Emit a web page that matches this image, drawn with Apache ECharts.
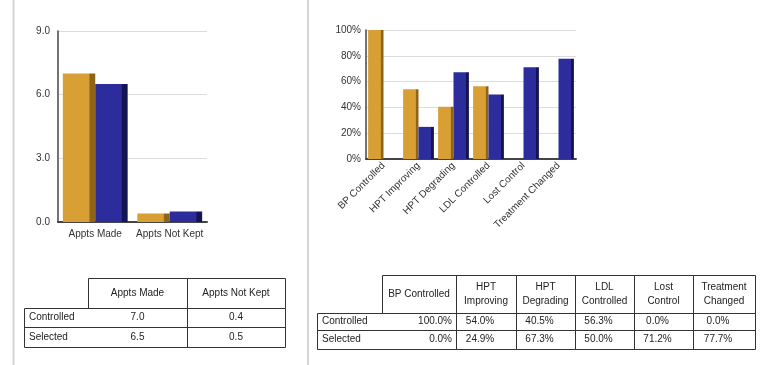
<!DOCTYPE html>
<html>
<head>
<meta charset="utf-8">
<script src="https://cdn.jsdelivr.net/npm/echarts@6/dist/echarts.min.js"></script>
<style>
html,body{margin:0;padding:0;background:#fff;}
#c{width:766px;height:365px;}
</style>
</head>
<body>
<div id="c"></div>
<script>
// ---- data ----
const seriesNames = ['Controlled', 'Selected'];
const categoriesL = ['Appts Made', 'Appts Not Kept'];
const controlledL = [7.0, 0.4];
const selectedL = [6.5, 0.5];
const yTicksL = [0, 3, 6, 9];

const categoriesR = ['BP Controlled', 'HPT Improving', 'HPT Degrading', 'LDL Controlled', 'Lost Control', 'Treatment Changed'];
const headersR = ['BP Controlled', 'HPT\nImproving', 'HPT\nDegrading', 'LDL\nControlled', 'Lost\nControl', 'Treatment\nChanged'];
const controlledR = [100.0, 54.0, 40.5, 56.3, 0.0, 0.0];
const selectedR = [0.0, 24.9, 67.3, 50.0, 71.2, 77.7];
const yTicksR = [0, 20, 40, 60, 80, 100];

// ---- styles ----
const FONT = 'Liberation Sans';
const ORANGE = '#D8A034';
const ORANGE_DARK = '#8E6418';
const BLUE = '#2C2C9C';
const BLUE_DARK = '#141452';

function barFill(main, dark) {
  return {
    type: 'linear', x: 0, y: 0, x2: 1, y2: 0,
    colorStops: [
      { offset: 0, color: main },
      { offset: 0.8, color: main },
      { offset: 0.84, color: dark },
      { offset: 1, color: dark }
    ]
  };
}

function table(colEdges, rowEdges, headers, rowLabels, rows, fmt, valAlign) {
  const els = [];
  const last = colEdges[colEdges.length - 1];
  const stroke = { stroke: '#333', lineWidth: 1, fill: null };
  const p = v => Math.round(v) + 0.5;
  els.push({ type: 'rect', shape: { x: p(colEdges[1]), y: p(rowEdges[0]), width: last - colEdges[1], height: rowEdges[1] - rowEdges[0] }, style: stroke, silent: true });
  els.push({ type: 'rect', shape: { x: p(colEdges[0]), y: p(rowEdges[1]), width: last - colEdges[0], height: rowEdges[rowEdges.length - 1] - rowEdges[1] }, style: stroke, silent: true });
  for (let i = 2; i < colEdges.length - 1; i++) {
    els.push({ type: 'line', shape: { x1: p(colEdges[i]), y1: p(rowEdges[0]), x2: p(colEdges[i]), y2: p(rowEdges[rowEdges.length - 1]) }, style: stroke, silent: true });
  }
  for (let r = 2; r < rowEdges.length - 1; r++) {
    els.push({ type: 'line', shape: { x1: p(colEdges[0]), y1: p(rowEdges[r]), x2: p(last), y2: p(rowEdges[r]) }, style: stroke, silent: true });
  }
  const txt = (text, x, y, align) => ({
    type: 'text', silent: true,
    style: { text: text, x: x, y: y, align: align, verticalAlign: 'middle', textAlign: align, textVerticalAlign: 'middle', fill: '#222', font: '10px "' + FONT + '"', lineHeight: 14 }
  });
  headers.forEach((h, i) => {
    const cx = (colEdges[i + 1] + colEdges[i + 2]) / 2;
    els.push(txt(h, cx, (rowEdges[0] + rowEdges[1]) / 2, 'center'));
  });
  rows.forEach((vals, r) => {
    const cy = (rowEdges[r + 1] + rowEdges[r + 2]) / 2;
    els.push(txt(rowLabels[r], colEdges[0] + 5, cy, 'left'));
    vals.forEach((v, i) => {
      const a = valAlign(i);
      let x;
      if (a === 'right') x = colEdges[i + 2] - 4;
      else x = (colEdges[i + 1] + colEdges[i + 2]) / 2 + (a === 'center' ? 0 : -6);
      els.push(txt(fmt(v), x, cy, a === 'right' ? 'right' : 'center'));
    });
  });
  return els;
}

const chart = echarts.init(document.getElementById('c'), null, { renderer: 'canvas' });

const axisLabelStyle = { color: '#333', fontFamily: FONT, fontSize: 10 };

const graphics = [
  { type: 'line', shape: { x1: 13.5, y1: 0, x2: 13.5, y2: 365 }, style: { stroke: '#d6d6d6', lineWidth: 2 }, silent: true },
  { type: 'line', shape: { x1: 308, y1: 0, x2: 308, y2: 365 }, style: { stroke: '#d6d6d6', lineWidth: 2 }, silent: true }
].concat(
  table([24, 88, 187, 285], [278, 308, 327, 347], categoriesL, seriesNames,
    [controlledL, selectedL], v => v.toFixed(1), () => 'center'),
  table([317, 382, 456, 516, 575, 634, 693, 755], [275, 313, 330, 349], headersR, seriesNames,
    [controlledR, selectedR], v => v.toFixed(1) + '%', i => (i === 0 ? 'right' : 'offset'))
);

chart.setOption({
  animation: false,
  backgroundColor: '#fff',
  grid: [
    { left: 58, top: 31, width: 149, height: 191 },
    { left: 366, top: 30, width: 210, height: 129 }
  ],
  xAxis: [
    {
      gridIndex: 0, type: 'category', data: categoriesL,
      axisLine: { lineStyle: { color: '#444', width: 2 } },
      axisTick: { show: false },
      axisLabel: Object.assign({ margin: 7, interval: 0 }, axisLabelStyle)
    },
    {
      gridIndex: 1, type: 'category', data: categoriesR,
      axisLine: { lineStyle: { color: '#444', width: 2 } },
      axisTick: { show: false },
      axisLabel: Object.assign({ margin: 5, interval: 0, rotate: 45 }, axisLabelStyle)
    }
  ],
  yAxis: [
    {
      gridIndex: 0, type: 'value',
      min: yTicksL[0], max: yTicksL[yTicksL.length - 1], interval: yTicksL[1] - yTicksL[0],
      axisLine: { show: true, lineStyle: { color: '#444', width: 1.5 } },
      axisTick: { show: false },
      splitLine: { lineStyle: { color: '#dcdcdc' } },
      axisLabel: Object.assign({ margin: 8, formatter: v => v.toFixed(1) }, axisLabelStyle)
    },
    {
      gridIndex: 1, type: 'value',
      min: yTicksR[0], max: yTicksR[yTicksR.length - 1], interval: yTicksR[1] - yTicksR[0],
      axisLine: { show: true, lineStyle: { color: '#444', width: 1.5 } },
      axisTick: { show: false },
      splitLine: { lineStyle: { color: '#dcdcdc' } },
      axisLabel: Object.assign({ margin: 5, formatter: '{value}%' }, axisLabelStyle)
    }
  ],
  series: [
    { name: seriesNames[0], type: 'bar', xAxisIndex: 0, yAxisIndex: 0, data: controlledL, barGap: '0%', barCategoryGap: '13%', itemStyle: { color: barFill(ORANGE, ORANGE_DARK) } },
    { name: seriesNames[1], type: 'bar', xAxisIndex: 0, yAxisIndex: 0, data: selectedL, barGap: '0%', barCategoryGap: '13%', itemStyle: { color: barFill(BLUE, BLUE_DARK) } },
    { name: seriesNames[0], type: 'bar', xAxisIndex: 1, yAxisIndex: 1, data: controlledR, barGap: '0%', barCategoryGap: '12%', itemStyle: { color: barFill(ORANGE, ORANGE_DARK) } },
    { name: seriesNames[1], type: 'bar', xAxisIndex: 1, yAxisIndex: 1, data: selectedR, barGap: '0%', barCategoryGap: '12%', itemStyle: { color: barFill(BLUE, BLUE_DARK) } }
  ],
  graphic: graphics
});
</script>
</body>
</html>
